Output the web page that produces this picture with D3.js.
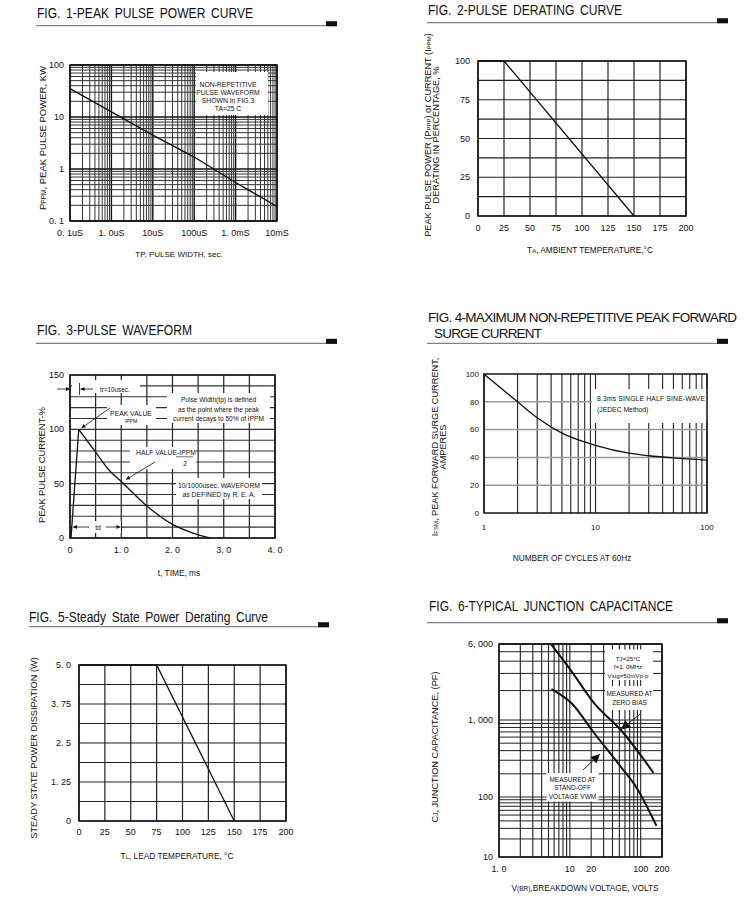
<!DOCTYPE html>
<html><head><meta charset="utf-8">
<script src="https://cdn.jsdelivr.net/npm/d3@7"></script>
<style>
body{margin:0;background:#fff}
text{fill:#111}
</style>
</head><body><script>
// ---------------- DATA ----------------
// Fig 1 – peak pulse power vs pulse width (µs, kW)
const fig1Width = [0.1, 1, 10, 100, 1000, 10000];
const fig1Power = [35, 12.5, 4.5, 1.7, 0.55, 0.19];
const fig1XTickVals = [0.1, 1, 10, 100, 1000, 10000];
const fig1XTickLabels = ["0. 1uS", "1. 0uS", "10uS", "100uS", "1. 0mS", "10mS"];
const fig1YTickVals = [0.1, 1, 10, 100];
const fig1YTickLabels = ["0. 1", "1", "10", "100"];
// Fig 2 – pulse derating
const fig2Temp = [0, 25, 150];
const fig2Pct = [100, 100, 0];
const fig2XTicks = [0, 25, 50, 75, 100, 125, 150, 175, 200];
const fig2YTicks = [0, 25, 50, 75, 100];
// Fig 3 – pulse waveform (ms, %)
const fig3Time = [0.02, 0.17, 0.5, 0.75, 1.0, 1.5, 2.0, 2.4, 2.73];
const fig3Current = [0, 100, 79, 63, 52, 29.5, 12.5, 4.5, 0];
const fig3XTickVals = [0, 1, 2, 3, 4];
const fig3XTickLabels = ["0", "1. 0", "2. 0", "3. 0", "4. 0"];
const fig3YTicks = [0, 50, 100, 150];
// Fig 4 – surge current vs cycles
const fig4Cycles = [1, 2, 3, 5, 10, 20, 30, 50, 100];
const fig4Current = [100, 80, 68.5, 57.5, 48.7, 43, 41.2, 39.6, 38.1];
const fig4XTicks = [1, 10, 100];
const fig4YTicks = [0, 20, 40, 60, 80, 100];
// Fig 5 – steady state power derating
const fig5Temp = [0, 75, 150];
const fig5Power = [5, 5, 0];
const fig5XTicks = [0, 25, 50, 75, 100, 125, 150, 175, 200];
const fig5YTickVals = [0, 1.25, 2.5, 3.75, 5];
const fig5YTickLabels = ["0", "1. 25", "2. 5", "3. 75", "5. 0"];
// Fig 6 – junction capacitance (V, pF)
const fig6ZeroBiasV = [5.5, 10.5, 22, 54, 152];
const fig6ZeroBiasC = [5900, 3170, 1490, 720, 205];
const fig6StandoffV = [5.5, 10.5, 22, 54, 88, 167];
const fig6StandoffC = [2075, 1490, 678, 238, 131, 33];
const fig6XTickVals = [1, 10, 20, 100, 200];
const fig6XTickLabels = ["1. 0", "10", "20", "100", "200"];
const fig6YTickVals = [10, 100, 1000, 6000];
const fig6YTickLabels = ["10", "100", "1, 000", "6, 000"];

// ---------------- HELPERS ----------------
const FONT = "'Liberation Sans', Arial, Helvetica, sans-serif";
const svg = d3.select("body").append("svg")
  .attr("width", 750).attr("height", 900)
  .attr("font-family", FONT);
svg.append("rect").attr("width", 750).attr("height", 900).attr("fill", "#fff");

const defs = svg.append("defs");
function marker(id, w, h) {
  defs.append("marker").attr("id", id).attr("viewBox", "0 0 10 10")
    .attr("refX", 10).attr("refY", 5)
    .attr("markerWidth", w).attr("markerHeight", h)
    .attr("markerUnits", "userSpaceOnUse").attr("orient", "auto")
    .append("path").attr("d", "M0,0 L10,5 L0,10 z").attr("fill", "#111");
}
marker("ah", 6, 4);
marker("ahBig", 12, 9);

function title(str, x, y, w, size, plain) {
  const t = svg.append("text").attr("x", x).attr("y", y).attr("font-size", size || 15.5)
    .attr("textLength", w);
  if (plain) t.attr("lengthAdjust", "spacing");
  else t.attr("word-spacing", 3).attr("lengthAdjust", "spacingAndGlyphs");
  t.text(str);
}
function rule(x1, x2, y) {
  svg.append("line").attr("x1", x1).attr("x2", x2).attr("y1", y).attr("y2", y)
    .attr("stroke", "#808080").attr("stroke-width", 1.3);
  svg.append("rect").attr("x", x2 - 11).attr("y", y - 4.5).attr("width", 11).attr("height", 5).attr("fill", "#111");
}
function logGrid(lo, hi) {
  const out = [];
  for (let d = lo; d < hi * 0.999; d *= 10)
    for (let k = 1; k < 10; k++) { const v = k * d; if (v <= hi * 1.0001) out.push(v); }
  out.push(hi);
  return out;
}
function vGrid(g, x, y, vals, color, w) {
  const yr = y.range();
  g.selectAll(null).data(vals).enter().append("line")
    .attr("x1", d => x(d)).attr("x2", d => x(d))
    .attr("y1", Math.min(...yr)).attr("y2", Math.max(...yr))
    .attr("stroke", typeof color === "function" ? color : () => color)
    .attr("stroke-width", typeof w === "function" ? w : () => w);
}
function hGrid(g, x, y, vals, color, w) {
  const [x0, x1] = x.range();
  g.selectAll(null).data(vals).enter().append("line")
    .attr("y1", d => y(d)).attr("y2", d => y(d))
    .attr("x1", x0).attr("x2", x1)
    .attr("stroke", typeof color === "function" ? color : () => color)
    .attr("stroke-width", typeof w === "function" ? w : () => w);
}
function frame(g, x, y) {
  const [x0, x1] = x.range(), yr = y.range();
  const ya = Math.min(...yr), yb = Math.max(...yr);
  g.append("rect").attr("x", x0).attr("y", ya).attr("width", x1 - x0).attr("height", yb - ya)
    .attr("fill", "none").attr("stroke", "#111").attr("stroke-width", 1.5);
}
function yLabels(g, y, vals, labels, xr, size) {
  g.selectAll(null).data(vals).enter().append("text")
    .attr("x", xr).attr("y", d => y(d)).attr("dy", "0.35em")
    .attr("text-anchor", "end").attr("font-size", size || 9)
    .text((d, i) => labels[i]);
}
function xLabels(g, x, vals, labels, yb, size) {
  g.selectAll(null).data(vals).enter().append("text")
    .attr("x", d => x(d)).attr("y", yb)
    .attr("text-anchor", "middle").attr("font-size", size || 9)
    .text((d, i) => labels[i]);
}
// rich text: parts = strings or {t, s} (s = font size for smaller pieces)
function rich(parent, x, y, parts, size, anchor, rotate) {
  const t = parent.append("text").attr("font-size", size).attr("text-anchor", anchor || "middle");
  if (rotate) t.attr("transform", `translate(${x},${y}) rotate(-90)`);
  else t.attr("x", x).attr("y", y);
  parts.forEach(p => {
    if (typeof p === "string") t.append("tspan").text(p);
    else t.append("tspan").attr("font-size", p.s).text(p.t);
  });
  return t;
}
function box(g, x0, y0, x1, y1) {
  g.append("rect").attr("x", x0).attr("y", y0).attr("width", x1 - x0).attr("height", y1 - y0).attr("fill", "#fff");
}
function textLines(g, x, arr, size, anchor) {
  arr.forEach(l => g.append("text").attr("x", x).attr("y", l[1]).attr("font-size", size)
    .attr("text-anchor", anchor || "middle").text(l[0]));
}
function arrow(g, x1, y1, x2, y2, m, w) {
  g.append("line").attr("x1", x1).attr("y1", y1).attr("x2", x2).attr("y2", y2)
    .attr("stroke", "#111").attr("stroke-width", w || 0.8).attr("marker-end", `url(#${m || "ah"})`);
}
function curve(g, x, y, xs, ys, w, c) {
  g.append("path").datum(d3.zip(xs, ys))
    .attr("d", d3.line().x(d => x(d[0])).y(d => y(d[1])).curve(c || d3.curveLinear))
    .attr("fill", "none").attr("stroke", "#111").attr("stroke-width", w || 1.3);
}

// ---------------- FIG 1 ----------------
{
  title("FIG. 1-PEAK PULSE POWER CURVE", 37, 18, 216);
  rule(36, 337, 25.7);
  const g = svg.append("g");
  const x = d3.scaleLog().domain([0.1, 10000]).range([70, 277]);
  const y = d3.scaleLog().domain([0.1, 100]).range([221, 65]);
  const isDec = v => Math.abs(Math.log10(v) - Math.round(Math.log10(v))) < 1e-6;
  vGrid(g, x, y, logGrid(0.1, 10000), d => isDec(d) ? "#111" : "#333", d => isDec(d) ? 1.4 : 1);
  hGrid(g, x, y, logGrid(0.1, 100), d => isDec(d) ? "#111" : "#333", d => isDec(d) ? 1.4 : 1);
  box(g, 196, 72, 268, 115);
  textLines(g, 228, [["NON-REPETITIVE", 86.5], ["PULSE WAVEFORM", 95], ["SHOWN In FIG.3", 103], ["TA=25 C", 111]], 6.8);
  curve(g, x, y, fig1Width, fig1Power, 1.4);
  frame(g, x, y);
  yLabels(g, y, fig1YTickVals, fig1YTickLabels, 64, 9);
  xLabels(g, x, fig1XTickVals, fig1XTickLabels, 235.5, 9);
  rich(g, 46, 138, ["P", { t: "PPM", s: 6.5 }, ", PEAK PULSE POWER, KW"], 9.5, "middle", true);
  g.append("text").attr("x", 179).attr("y", 257).attr("font-size", 8).attr("text-anchor", "middle").text("TP, PULSE WIDTH, sec.");
}

// ---------------- FIG 2 ----------------
{
  title("FIG. 2-PULSE DERATING CURVE", 428, 15, 194);
  rule(427, 728, 22.7);
  const g = svg.append("g");
  const x = d3.scaleLinear().domain([0, 200]).range([478, 686]);
  const y = d3.scaleLinear().domain([0, 100]).range([216, 61]);
  vGrid(g, x, y, fig2XTicks, "#222", 1.2);
  hGrid(g, x, y, d3.range(0, 100.1, 12.5), "#222", 1.2);
  curve(g, x, y, fig2Temp, fig2Pct, 1.3);
  frame(g, x, y);
  yLabels(g, y, fig2YTicks, fig2YTicks.map(String), 470, 9);
  xLabels(g, x, fig2XTicks, fig2XTicks.map(String), 231, 9);
  rich(g, 431, 135, ["PEAK PULSE POWER (P", { t: "PPP", s: 6 }, ") or CURRENT (I", { t: "PPM", s: 6 }, ")"], 9.2, "middle", true);
  g.append("text").attr("transform", "translate(438.5,135) rotate(-90)").attr("font-size", 9.2)
    .attr("text-anchor", "middle").text("DERATING IN PERCENTAGE, %");
  rich(g, 590, 253, ["T", { t: "A", s: 6 }, ", AMBIENT TEMPERATURE,°C"], 8.3, "middle", false);
}

// ---------------- FIG 3 ----------------
{
  title("FIG. 3-PULSE WAVEFORM", 37, 335, 155);
  rule(36, 337, 343.3);
  const g = svg.append("g");
  const x = d3.scaleLinear().domain([0, 4]).range([70, 275]);
  const y = d3.scaleLinear().domain([0, 150]).range([538, 375]);
  vGrid(g, x, y, d3.range(0, 4.01, 0.5), "#222", 1.2);
  hGrid(g, x, y, d3.range(0, 150.1, 10), "#333", 1.1);
  // annotation boxes
  box(g, 72, 380, 140, 393);
  box(g, 167, 393, 270, 423);
  box(g, 107, 405, 156, 425);
  box(g, 130, 447, 196, 469);
  box(g, 176, 478, 262, 499);
  box(g, 72, 521, 121, 533);
  // tr
  arrow(g, 57, 389, 70, 389);
  g.append("line").attr("x1", 79.5).attr("x2", 79.5).attr("y1", 383).attr("y2", 395).attr("stroke", "#111").attr("stroke-width", 0.8);
  arrow(g, 93, 389, 80.5, 389);
  g.append("text").attr("x", 100).attr("y", 391.5).attr("font-size", 6.3).text("tr=10usec.");
  textLines(g, 218.5, [["Pulse Width(tp) is defined", 402], ["as the point where the peak", 411.5], ["current decays to 50% of IPPM", 421]], 6.6);
  // peak value
  textLines(g, 131, [["PEAK VALUE", 415.5]], 6.8);
  g.append("text").attr("x", 131).attr("y", 423).attr("font-size", 5).attr("text-anchor", "middle").text("IPPM");
  arrow(g, 110, 408, 81.5, 428);
  // half value
  g.append("text").attr("x", 136).attr("y", 455).attr("font-size", 6.8).text("HALF VALUE-IPPM");
  g.append("line").attr("x1", 176).attr("x2", 193).attr("y1", 456.8).attr("y2", 456.8).attr("stroke", "#111").attr("stroke-width", 0.6);
  g.append("text").attr("x", 185).attr("y", 466).attr("font-size", 6.5).attr("text-anchor", "middle").text("2");
  arrow(g, 155, 462, 126, 479.5);
  // 10/1000
  textLines(g, 219, [["10/1000usec. WAVEFORM", 487.5], ["as DEFINED by R. E. A.", 496.5]], 6.8);
  // td
  arrow(g, 89, 527, 73, 527);
  arrow(g, 106, 527, 120.5, 527);
  g.append("line").attr("x1", 121.5).attr("x2", 121.5).attr("y1", 522).attr("y2", 532).attr("stroke", "#111").attr("stroke-width", 0.8);
  g.append("text").attr("x", 98).attr("y", 529.5).attr("font-size", 6.8).attr("text-anchor", "middle").text("td");
  // curve
  curve(g, x, y, fig3Time.slice(0, 2), fig3Current.slice(0, 2), 1.3);
  curve(g, x, y, fig3Time.slice(1), fig3Current.slice(1), 1.3, d3.curveMonotoneX);
  frame(g, x, y);
  yLabels(g, y, fig3YTicks, fig3YTicks.map(String), 64, 9);
  xLabels(g, x, fig3XTickVals, fig3XTickLabels, 552.5, 9);
  g.append("text").attr("transform", "translate(45,465) rotate(-90)").attr("font-size", 9.5)
    .attr("text-anchor", "middle").attr("textLength", 116).text("PEAK PULSE CURRENT-%");
  g.append("text").attr("x", 179).attr("y", 576).attr("font-size", 8.3).attr("text-anchor", "middle").text("t, TIME, ms");
}

// ---------------- FIG 4 ----------------
{
  title("FIG. 4-MAXIMUM NON-REPETITIVE PEAK FORWARD", 428, 322, 309, 13.5, true);
  title("SURGE CURRENT", 434, 338, 108, 13.5, true);
  rule(427, 728, 343.3);
  const g = svg.append("g");
  const x = d3.scaleLog().domain([1, 100]).range([484, 707]);
  const y = d3.scaleLinear().domain([0, 100]).range([513, 374]);
  vGrid(g, x, y, logGrid(1, 100), "#222", 1.1);
  hGrid(g, x, y, [20, 40, 60, 80], "#9a9a9a", 1.5);
  box(g, 592, 389, 708, 423);
  g.append("text").attr("x", 597).attr("y", 401).attr("font-size", 6.8).attr("textLength", 108).text("8.3ms SINGLE HALF SINE-WAVE");
  g.append("text").attr("x", 597).attr("y", 411.5).attr("font-size", 6.8).text("(JEDEC Method)");
  curve(g, x, y, fig4Cycles, fig4Current, 1.3, d3.curveMonotoneX);
  frame(g, x, y);
  yLabels(g, y, fig4YTicks, fig4YTicks.map(String), 479, 8);
  xLabels(g, x, fig4XTicks, fig4XTicks.map(String), 530, 8);
  rich(g, 438, 447, ["I", { t: "FSM", s: 6 }, ", PEAK FORWARD SURGE CURRENT,"], 9.2, "middle", true);
  g.append("text").attr("transform", "translate(445.5,447) rotate(-90)").attr("font-size", 9.2)
    .attr("text-anchor", "middle").text("AMPERES");
  g.append("text").attr("x", 572).attr("y", 561).attr("font-size", 8.3).attr("text-anchor", "middle").text("NUMBER OF CYCLES AT 60Hz");
}

// ---------------- FIG 5 ----------------
{
  title("FIG. 5-Steady State Power Derating Curve", 29, 622, 239);
  rule(29, 329, 626.7);
  const g = svg.append("g");
  const x = d3.scaleLinear().domain([0, 200]).range([79, 286]);
  const y = d3.scaleLinear().domain([0, 5]).range([821, 665]);
  vGrid(g, x, y, fig5XTicks, "#222", 1.2);
  hGrid(g, x, y, d3.range(0, 5.001, 0.625), "#222", 1.2);
  curve(g, x, y, fig5Temp, fig5Power, 1.3);
  frame(g, x, y);
  yLabels(g, y, fig5YTickVals, fig5YTickLabels, 71, 9);
  xLabels(g, x, fig5XTicks, fig5XTicks.map(String), 835, 9);
  g.append("text").attr("transform", "translate(37,748) rotate(-90)").attr("font-size", 9.2)
    .attr("text-anchor", "middle").text("STEADY STATE POWER DISSIPATION (W)");
  rich(g, 177, 859, ["T", { t: "L", s: 6 }, ",  LEAD TEMPERATURE, °C"], 8.3, "middle", false);
}

// ---------------- FIG 6 ----------------
{
  title("FIG. 6-TYPICAL JUNCTION CAPACITANCE", 429, 611, 244);
  rule(427, 728, 622.7);
  const g = svg.append("g");
  const x = d3.scaleLog().domain([1, 200]).range([499, 662]);
  const y = d3.scaleLog().domain([10, 100, 1000, 6000]).range([857, 797, 720, 644]);
  vGrid(g, x, y, logGrid(1, 200), "#222", 1.1);
  hGrid(g, x, y, logGrid(10, 6000), "#222", 1.0);
  box(g, 605, 649.5, 653, 680);
  textLines(g, 628, [["TJ=25°C", 660.5], ["f=1. 0MHz", 669], ["Vsig=50mVp-p", 677.5]], 6.2);
  box(g, 605, 686, 653, 710);
  textLines(g, 629.5, [["MEASURED AT", 696], ["ZERO BIAS", 704.5]], 6.5);
  box(g, 546.5, 773, 598.5, 801.5);
  textLines(g, 572.5, [["MEASURED AT", 781.5], ["STAND-OFF", 790], ["VOLTAGE VWM", 798.5]], 6.5);
  curve(g, x, y, fig6ZeroBiasV, fig6ZeroBiasC, 2, d3.curveMonotoneX);
  curve(g, x, y, fig6StandoffV, fig6StandoffC, 2, d3.curveMonotoneX);
  arrow(g, 640, 714, 621, 729.5, "ahBig", 0.9);
  arrow(g, 583, 770, 600, 754, "ahBig", 0.9);
  frame(g, x, y);
  yLabels(g, y, fig6YTickVals, fig6YTickLabels, 493, 9);
  xLabels(g, x, fig6XTickVals, fig6XTickLabels, 871.5, 9);
  rich(g, 438, 747, ["C", { t: "J", s: 6.5 }, ", JUNCTION CAPACITANCE, (PF)"], 9.2, "middle", true);
  rich(g, 585, 891, ["V", { t: "(BR)", s: 6.5 }, ",BREAKDOWN VOLTAGE, VOLTS"], 8.3, "middle", false);
}
</script></body></html>
